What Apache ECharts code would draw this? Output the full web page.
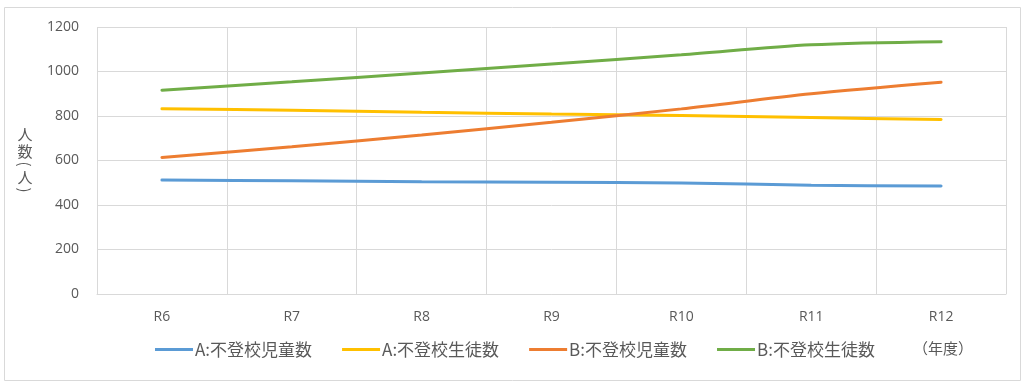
<!DOCTYPE html>
<html>
<head>
<meta charset="utf-8">
<script src="https://cdn.jsdelivr.net/npm/echarts@6/dist/echarts.min.js"></script>
<style>
  html, body { margin: 0; padding: 0; background: #fff; }
  #chart { width: 1021px; height: 383px; }
</style>
</head>
<body>
<div id="chart"></div>
<script>
// data
const years = ["R6", "R7", "R8", "R9", "R10", "R11", "R12"];
const aElem = [512, 509, 505, 502, 499, 489, 485];
const aJunior = [833, 826, 817, 809, 802, 793, 784];
const bElem = [614, 662, 715, 772, 832, 900, 952];
const bJunior = [916, 954, 993, 1034, 1075, 1120, 1134];
const seriesNames = ["A:不登校児童数", "A:不登校生徒数", "B:不登校児童数", "B:不登校生徒数"];
const colors = ["#5b9bd5", "#ffc000", "#ed7d31", "#70ad47"];

const myChart = echarts.init(document.getElementById("chart"));
const fontColor = "#595959";
const gridColor = "#d9d9d9";
const jpFont = "'Noto Sans CJK JP', sans-serif";
const yFont = "15px 'Noto Sans CJK JP'";

const seriesItem = {
  type: "line",
  smooth: 0.3,
  symbol: "none",
  lineStyle: { width: 3, cap: "round" },
};

// vertical axis title: 人 数 (人) with the brackets turned
const yTitle = [
  { text: "人", y: 134, rot: 0 },
  { text: "数", y: 151, rot: 0 },
  { text: "(", y: 164, rot: -Math.PI / 2 },
  { text: "人", y: 177, rot: 0 },
  { text: ")", y: 190, rot: -Math.PI / 2 },
].map((c) => ({
  type: "text",
  x: 25, y: c.y,
  rotation: c.rot,
  style: { text: c.text, fill: fontColor, font: yFont, align: "center", verticalAlign: "middle" },
}));

let option = {
  animation: false,
  color: colors,
  grid: { left: 97, right: 15, top: 27, bottom: 89 },
  legend: {
    data: seriesNames,
    bottom: 20,
    left: 150,
    icon: "rect",
    itemWidth: 38,
    itemHeight: 3,
    itemGap: 30,
    textStyle: { color: fontColor, fontSize: 17, fontFamily: jpFont, padding: [0, 0, 0, -3] },
  },
  xAxis: {
    type: "category",
    data: years,
    axisTick: { show: false },
    axisLine: { lineStyle: { color: gridColor } },
    axisLabel: { color: fontColor, fontSize: 14, margin: 16, fontFamily: "'Open Sans', sans-serif" },
    splitLine: { show: true, lineStyle: { color: gridColor } },
  },
  yAxis: {
    type: "value",
    min: 0,
    max: 1200,
    interval: 200,
    axisLine: { show: false },
    axisLabel: {
      color: fontColor, fontSize: 14, margin: 18, fontFamily: "'Open Sans', sans-serif",
      formatter: (v) => String(v),
    },
    splitLine: { show: true, lineStyle: { color: gridColor } },
  },
  graphic: [
    {
      type: "rect",
      left: 2, top: 5,
      shape: { width: 1016, height: 373 },
      style: { fill: "none", stroke: gridColor, lineWidth: 1 },
      z: -1,
    },
    ...yTitle,
    {
      type: "text",
      left: 913, top: 341,
      style: { text: "（年度）", fill: fontColor, font: "15px 'Noto Sans CJK JP'" },
    },
  ],
  series: [
    { ...seriesItem, name: seriesNames[0], data: aElem },
    { ...seriesItem, name: seriesNames[1], data: aJunior },
    { ...seriesItem, name: seriesNames[2], data: bElem },
    { ...seriesItem, name: seriesNames[3], data: bJunior },
  ],
};
myChart.setOption(option);
</script>
</body>
</html>
